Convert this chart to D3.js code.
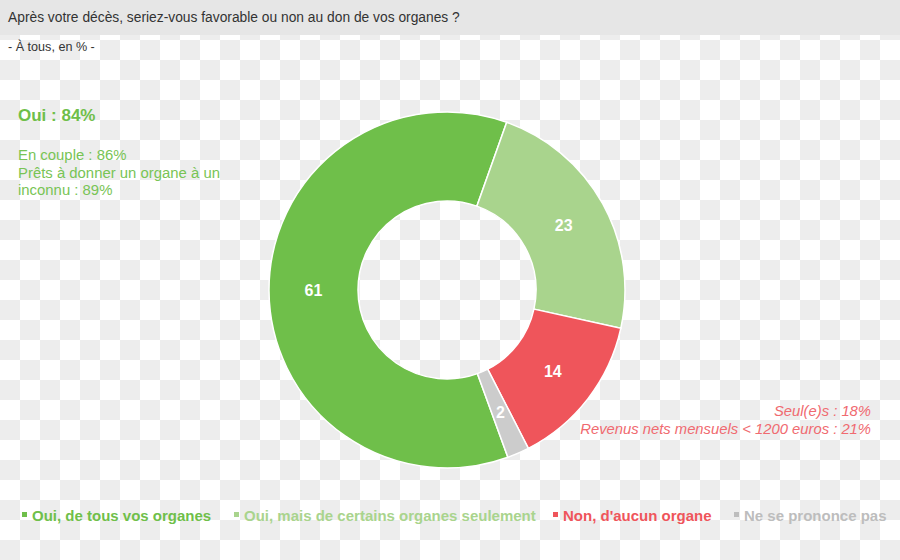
<!DOCTYPE html>
<html>
<head>
<meta charset="utf-8">
<script src="https://cdn.jsdelivr.net/npm/d3@7"></script>
<style>
  html, body { margin: 0; padding: 0; }
  body { width: 900px; height: 560px; overflow: hidden; font-family: "Liberation Sans", Arial, sans-serif; }
</style>
</head>
<body>
<div id="chart-area"></div>
<script>
/***** Data *****/
const categories = ["Oui, de tous vos organes", "Oui, mais de certains organes seulement", "Non, d'aucun organe", "Ne se prononce pas"];
const values     = [61, 23, 14, 2];
const colors     = ["#6fbf4a", "#a9d48d", "#ef555b", "#cccccc"];
const legendColors = ["#6fbf4a", "#a9d48d", "#ef555b", "#bdbdbd"];

const title    = "Après votre décès, seriez-vous favorable ou non au don de vos organes ?";
const subtitle = "- À tous, en % -";
const ouiHead  = "Oui : 84%";
const ouiNotes = ["En couple : 86%", "Prêts à donner un organe à un", "inconnu : 89%"];
const nonNotes = ["Seul(e)s : 18%", "Revenus nets mensuels < 1200 euros : 21%"];

/***** Setup *****/
const W = 900, H = 560;
const svg = d3.select("#chart-area").append("svg")
  .attr("width", W).attr("height", H);

// checkered background
const pat = svg.append("defs").append("pattern")
  .attr("id", "checker").attr("patternUnits", "userSpaceOnUse")
  .attr("width", 40).attr("height", 40);
pat.append("rect").attr("width", 40).attr("height", 40).attr("fill", "#ffffff");
pat.append("rect").attr("x", 20).attr("y", 0).attr("width", 20).attr("height", 20).attr("fill", "#ededed");
pat.append("rect").attr("x", 0).attr("y", 20).attr("width", 20).attr("height", 20).attr("fill", "#ededed");
svg.append("rect").attr("width", W).attr("height", H).attr("fill", "url(#checker)");

// title bar
svg.append("rect").attr("width", W).attr("height", 35).attr("fill", "#e6e6e6");
svg.append("text").attr("x", 8).attr("y", 22)
  .attr("font-size", 13.8).attr("fill", "#333").text(title);
svg.append("text").attr("x", 8).attr("y", 51)
  .attr("font-size", 12.6).attr("fill", "#333").text(subtitle);

/***** Donut *****/
const cx = 447, cy = 290, rOut = 178, rIn = 89;
const start = -200 * Math.PI / 180;
const pie = d3.pie().sort(null).startAngle(start).endAngle(start + 2 * Math.PI);
const arc = d3.arc().innerRadius(rIn).outerRadius(rOut);
const arcs = pie(values);

const g = svg.append("g").attr("transform", `translate(${cx},${cy})`);
g.selectAll("path").data(arcs).join("path")
  .attr("d", arc)
  .attr("fill", (d, i) => colors[i])
  .attr("stroke", "#ffffff").attr("stroke-width", 1.5);

g.selectAll("text.val").data(arcs).join("text")
  .attr("class", "val")
  .attr("transform", d => `translate(${arc.centroid(d)})`)
  .attr("text-anchor", "middle").attr("dy", "0.35em")
  .attr("font-size", 16).attr("font-weight", "bold").attr("fill", "#fff")
  .text(d => d.data);

/***** Annotations *****/
svg.append("text").attr("x", 18).attr("y", 121)
  .attr("font-size", 17).attr("font-weight", "bold").attr("fill", "#6fbf4a").text(ouiHead);
svg.append("g").selectAll("text").data(ouiNotes).join("text")
  .attr("x", 18).attr("y", (d, i) => 160 + i * 17.5)
  .attr("font-size", 14.9).attr("fill", "#78c455").text(d => d);

svg.append("g").selectAll("text").data(nonNotes).join("text")
  .attr("x", 871).attr("y", (d, i) => 416 + i * 18)
  .attr("text-anchor", "end").attr("font-style", "italic")
  .attr("font-size", 14.8).attr("fill", "#f06a70").text(d => d);

/***** Legend *****/
const legendX = [22, 234, 553, 734];
const lg = svg.append("g").selectAll("g").data(categories).join("g")
  .attr("transform", (d, i) => `translate(${legendX[i]},515)`);
lg.append("rect").attr("x", 0).attr("y", -3).attr("width", 5).attr("height", 5)
  .attr("fill", (d, i) => legendColors[i]);
lg.append("text").attr("x", 10).attr("y", 5.5)
  .attr("font-size", 15).attr("font-weight", "bold")
  .attr("fill", (d, i) => legendColors[i]).text(d => d);
</script>
</body>
</html>
